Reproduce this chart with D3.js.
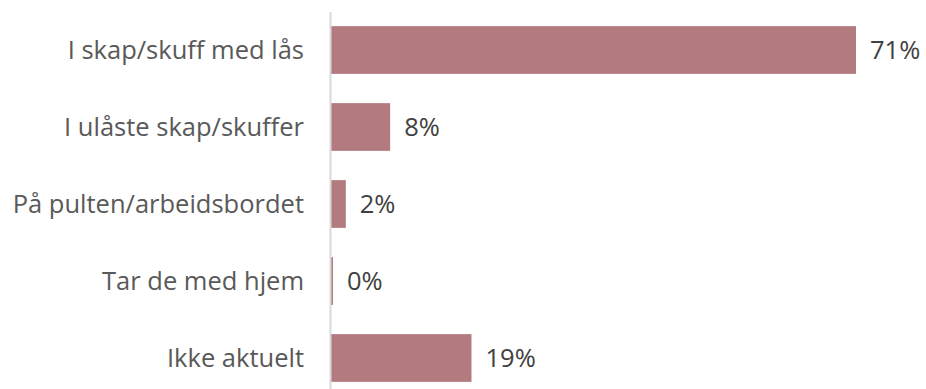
<!DOCTYPE html>
<html>
<head>
<meta charset="utf-8">
<script src="https://cdn.jsdelivr.net/npm/d3@7"></script>
<style>
  html, body { margin: 0; padding: 0; background: #fff; }
  svg { display: block; }
</style>
</head>
<body>
<svg id="chart" width="926" height="389"></svg>
<script>
// Where keys/access cards are stored
const categories = [
  "I skap/skuff med lås",
  "I ulåste skap/skuffer",
  "På pulten/arbeidsbordet",
  "Tar de med hjem",
  "Ikke aktuelt"
];
const values = [71, 8, 2, 0.2, 19];
const valueLabels = ["71%", "8%", "2%", "0%", "19%"];

const svg = d3.select("#chart");
const axisX = 331;

const x = d3.scaleLinear().domain([0, 71]).range([axisX, 856]);
const y = d3.scaleBand().domain(categories).range([11.5, 396.5]).paddingInner(0.38).paddingOuter(0.19);

const font = "'Open Sans', sans-serif";
const fontSize = 25.5;

svg.selectAll("rect.bar")
  .data(categories)
  .join("rect")
  .attr("class", "bar")
  .attr("x", x(0))
  .attr("y", d => y(d))
  .attr("width", (d, i) => Math.max(2, x(values[i]) - x(0)))
  .attr("height", y.bandwidth())
  .attr("fill", "#b37b7f");

// category axis line
svg.append("line")
  .attr("x1", axisX - 0.5).attr("x2", axisX - 0.5)
  .attr("y1", 12).attr("y2", 389)
  .attr("stroke", "#d9d9d9").attr("stroke-width", 2);

svg.selectAll("text.cat")
  .data(categories)
  .join("text")
  .attr("class", "cat")
  .attr("x", 304)
  .attr("y", d => y(d) + y.bandwidth() / 2)
  .attr("dy", "0.35em")
  .attr("text-anchor", "end")
  .attr("font-family", font)
  .attr("font-size", fontSize)
  .attr("fill", "#595959")
  .text(d => d);

svg.selectAll("text.val")
  .data(categories)
  .join("text")
  .attr("class", "val")
  .attr("x", (d, i) => Math.max(x(values[i]), x(0) + 2) + 14)
  .attr("y", d => y(d) + y.bandwidth() / 2)
  .attr("dy", "0.35em")
  .attr("font-family", font)
  .attr("font-size", fontSize)
  .attr("fill", "#404040")
  .text((d, i) => valueLabels[i]);
</script>
</body>
</html>
